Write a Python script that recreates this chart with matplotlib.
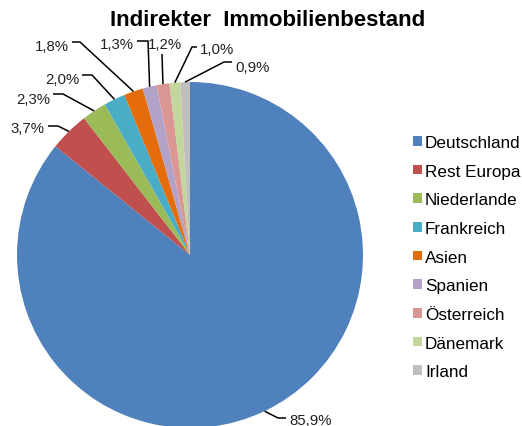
import numpy as np
import matplotlib.pyplot as plt
from matplotlib.patches import Patch

plt.rcParams['font.family'] = ['Liberation Sans', 'DejaVu Sans']

laender = ['Deutschland', 'Rest Europa', 'Niederlande', 'Frankreich', 'Asien',
           'Spanien', 'Österreich', 'Dänemark', 'Irland']
anteile = [85.9, 3.7, 2.3, 2.0, 1.8, 1.3, 1.2, 1.0, 0.9]
farben = ['#4F81BD', '#C0504D', '#9BBB59', '#4BACC6', '#E46C0A',
          '#B3A2C7', '#D99694', '#C3D69B', '#BFBFBF']

W, H = 522, 427
fig = plt.figure(figsize=(W / 100, H / 100), dpi=100)
ax = fig.add_axes([0, 0, 1, 1])

# pie in pixel coordinates (y measured from bottom)
cx, cy, r = 190, H - 256, 173
wedges, _ = ax.pie(anteile, colors=farben, startangle=90, counterclock=False,
                   center=(cx, cy), radius=r, frame=True)
ax.set_xlim(0, W)
ax.set_ylim(0, H)
ax.axis('off')

# label layout: text position (px from top), alignment, leader line points
lab_pos = [(289, 421, 'left'), (44, 129, 'right'), (50, 100, 'right'),
           (79, 80, 'right'), (69, 47, 'right'), (134, 45, 'right'),
           (165, 45, 'center'), (200, 50, 'left'), (235, 68, 'left')]
lab_line = [[(286, 419), (278, 419)], [(48, 127), (58, 127)], [(53, 95), (63, 95)],
            [(82, 76), (92, 76)], [(72, 43), (80, 43)], [(137, 42), (148, 42)],
            [(162, 55)], [(197, 48), (192, 48)], [(232, 63), (224, 63)]]

for w, val, (tx, ty, ha), pts in zip(wedges, anteile, lab_pos, lab_line):
    mid = np.deg2rad((w.theta1 + w.theta2) / 2)
    ex, ey = cx + r * np.cos(mid), cy + r * np.sin(mid)
    xs = [p[0] for p in pts] + [ex]
    ys = [H - p[1] for p in pts] + [ey]
    ax.plot(xs, ys, color='black', lw=1.1, solid_capstyle='butt')
    ax.text(tx, H - ty, ('%.1f%%' % val).replace('.', ','), ha=ha, va='center',
            fontsize=10.8, color='#222222')

ax.text(268, H - 20, 'Indirekter  Immobilienbestand', ha='center', va='center',
        fontsize=16, fontweight='bold')

handles = [Patch(facecolor=c, edgecolor='none') for c in farben]
fig.legend(handles, laender, loc='upper left', bbox_to_anchor=(413 / W, 1 - 136 / H),
           frameon=False, fontsize=12.3, handlelength=0.5, handleheight=0.5,
           handletextpad=0.2, labelspacing=0.8, borderpad=0, borderaxespad=0)

fig.savefig('out.png', dpi=100)
